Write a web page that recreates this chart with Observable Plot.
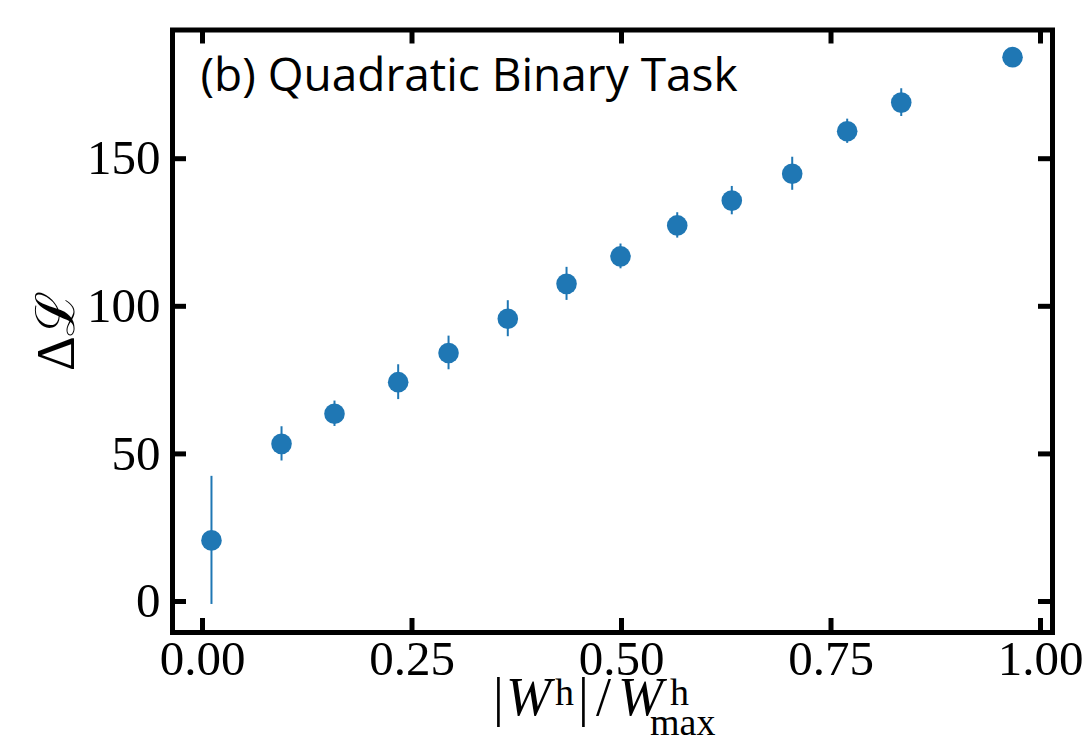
<!DOCTYPE html>
<html>
<head>
<meta charset="utf-8">
<script src="https://cdn.jsdelivr.net/npm/d3@7"></script>
<script src="https://cdn.jsdelivr.net/npm/@observablehq/plot@0.6"></script>
<style>
  html, body { margin: 0; padding: 0; background: #fff; }
  #chart svg { display: block; }
</style>
</head>
<body>
<div id="chart"></div>
<script>
// ---- data ----
const xVals   = [0.0107, 0.0943, 0.1575, 0.2335, 0.2936, 0.3643, 0.4344, 0.4988, 0.5665, 0.6316, 0.7037, 0.7693, 0.8338, 0.9666];
const yVals   = [20.7, 53.4, 63.6, 74.3, 84.2, 95.8, 107.6, 116.9, 127.4, 135.8, 144.9, 159.3, 169.0, 184.4];
const errVals = [21.7, 5.8, 4.3, 5.9, 5.7, 6.1, 5.6, 4.2, 4.3, 4.8, 5.6, 4.1, 4.7, 1.5];
const xTicks  = [0, 0.25, 0.5, 0.75, 1.0];
const yTicks  = [0, 50, 100, 150];
const titleText = "(b) Quadratic Binary Task";
const yLabel = "Δℒ";

const data = xVals.map((x, i) => ({x, y: yVals[i], lo: yVals[i] - errVals[i], hi: yVals[i] + errVals[i]}));

const W = 1082, H = 738;
const mL = 172, mR = 30, mT = 29.5, mB = 106;
const frameW = W - mL - mR, frameH = H - mT - mB;
const tickLen = 14;
const blue = "#1f77b4";
const serif = "'Liberation Serif', 'DejaVu Serif', serif";

const svg = Plot.plot({
  width: W, height: H,
  marginLeft: mL, marginRight: mR, marginTop: mT, marginBottom: mB,
  style: {fontFamily: serif, fontSize: "49px", background: "#fff", color: "#000"},
  x: {domain: [-0.0358, 1.0143]},
  y: {domain: [-10.5, 193.6]},
  marks: [
    Plot.axisX({ticks: xTicks, tickFormat: d3.format(".2f"), tickSize: 0, tickPadding: 8, label: null, fontSize: 49}),
    Plot.axisY({ticks: yTicks, tickFormat: d3.format("d"), tickSize: 0, tickPadding: 12, label: null, fontSize: 49}),
    // inward ticks on all four sides
    Plot.ruleX(xTicks, {x: d => d, insetTop: frameH - tickLen, stroke: "#000", strokeWidth: 5}),
    Plot.ruleX(xTicks, {x: d => d, insetBottom: frameH - tickLen, stroke: "#000", strokeWidth: 5}),
    Plot.ruleY(yTicks, {y: d => d, insetRight: frameW - tickLen, stroke: "#000", strokeWidth: 5}),
    Plot.ruleY(yTicks, {y: d => d, insetLeft: frameW - tickLen, stroke: "#000", strokeWidth: 5}),
    // error bars and points
    Plot.ruleX(data, {x: "x", y1: "lo", y2: "hi", stroke: blue, strokeWidth: 2}),
    Plot.dot(data, {x: "x", y: "y", r: 10.3, fill: blue, stroke: "none"}),
    Plot.frame({stroke: "#000", strokeWidth: 5}),
    // panel title inside the frame
    Plot.text([titleText], {frameAnchor: "top-left", textAnchor: "start", lineAnchor: "bottom", dx: 28, dy: 60.5,
      fontFamily: "'Open Sans', 'Noto Sans', sans-serif", fontSize: 46, fill: "#000"}),
    // y label
    Plot.text([yLabel], {frameAnchor: "left", rotate: -90, textAnchor: "middle", lineAnchor: "top", dx: -137,
      fontFamily: serif, fontSize: 54, fill: "#000"})
  ]
});

// x-axis label with super/subscripts: |W^h| / W^h_max
const s = d3.select(svg);
const t = s.append("text")
  .attr("text-anchor", "start")
  .attr("font-family", serif).attr("font-size", 54).attr("fill", "#000");
const parts = [
  {text: "|",   x: 493, y: 715},
  {text: "W",   x: 506, y: 715, italic: true},
  {text: "h",   x: 555, y: 705, small: true},
  {text: "|",   x: 578, y: 715},
  {text: "/",   x: 596, y: 715},
  {text: "W",   x: 618, y: 715, italic: true},
  {text: "h",   x: 670, y: 705, small: true},
  {text: "max", x: 650, y: 735, small: true}
];
parts.forEach(p => {
  const sp = t.append("tspan").attr("x", p.x).attr("y", p.y).text(p.text);
  if (p.italic) sp.attr("font-style", "italic");
  if (p.small) sp.attr("font-size", 38);
});

document.getElementById("chart").appendChild(svg);
</script>
</body>
</html>
